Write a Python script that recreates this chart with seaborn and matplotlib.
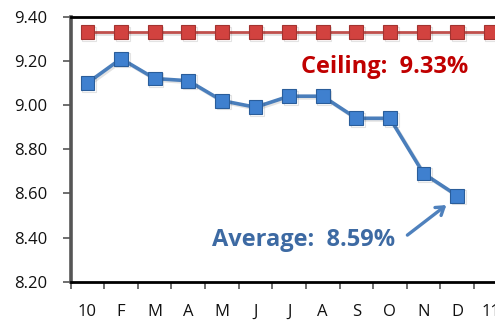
import matplotlib
matplotlib.use("Agg")
import matplotlib.pyplot as plt
import matplotlib.patheffects as pe
import seaborn as sns
import pandas as pd
import numpy as np

# ---- data ----
months = ["10", "F", "M", "A", "M", "J", "J", "A", "S", "O", "N", "D", "11"]
average = [9.10, 9.21, 9.12, 9.11, 9.02, 8.99, 9.04, 9.04, 8.94, 8.94, 8.69, 8.59]
ceiling = [9.33] * 13
yticks = [8.20, 8.40, 8.60, 8.80, 9.00, 9.20, 9.40]
ceiling_label = "Ceiling:  9.33%"
average_label = "Average:  8.59%"

sns.set_theme(style="white")
plt.rcParams["font.family"] = ["Open Sans", "DejaVu Sans"]

fig = plt.figure(figsize=(4.95, 3.2), dpi=100)
ax = fig.add_axes([0.1428, 0.1197, 0.8825, 0.8281])

df_c = pd.DataFrame({"pos": np.arange(len(ceiling)), "val": ceiling})
df_a = pd.DataFrame({"pos": np.arange(len(average)), "val": average})

sns.lineplot(data=df_c, x="pos", y="val", ax=ax, color="#c0504d", lw=2.0,
             marker="s", markersize=10, markerfacecolor="#d2423f",
             markeredgecolor="#a33330", markeredgewidth=0.8, clip_on=False)
sns.lineplot(data=df_a, x="pos", y="val", ax=ax, color="#4a7ebb", lw=2.6,
             marker="s", markersize=10, markerfacecolor="#3f80cf",
             markeredgecolor="#2a5d9a", markeredgewidth=0.8)

for ln in ax.lines:
    ln.set_path_effects([pe.SimpleLineShadow(offset=(1.2, -1.2), alpha=0.12), pe.Normal()])

ax.set_xlim(-0.5, len(months) - 0.5)
ax.set_ylim(yticks[0], yticks[-1])
ax.set_yticks(yticks)
ax.set_yticklabels([f"{v:.2f}" for v in yticks])
ax.set_xticks(np.arange(len(months)))
ax.set_xticklabels(months)
ax.set_xticks(np.arange(len(months) + 1) - 0.5, minor=True)
ax.set_xlabel("")
ax.set_ylabel("")

ax.tick_params(axis="x", which="major", length=0, pad=16, labelsize=12, colors="#111111")
ax.tick_params(axis="x", which="minor", bottom=True, length=5, width=1.2, color="#555555")
ax.tick_params(axis="y", which="major", left=True, length=6, width=1.2, color="#555555",
               pad=11, labelsize=12, labelcolor="#111111")

for s in ["top", "bottom"]:
    ax.spines[s].set_color("#000000")
    ax.spines[s].set_linewidth(2.0)
ax.spines["left"].set_color("#555555")
ax.spines["left"].set_linewidth(2.6)
ax.spines["right"].set_visible(False)

ax.text(8.84, 9.172, ceiling_label, color="#c00000", fontsize=17, fontweight="bold",
        ha="center", va="center")
ax.text(6.44, 8.388, average_label, color="#3d6aa3", fontsize=17, fontweight="bold",
        ha="center", va="center")
ax.annotate("", xy=(10.68, 8.547), xytext=(9.52, 8.411),
            arrowprops=dict(arrowstyle="->,head_length=0.45,head_width=0.3", color="#4f81bd",
                            lw=2.4, shrinkA=0, shrinkB=0))

fig.savefig("out.png", dpi=100)
